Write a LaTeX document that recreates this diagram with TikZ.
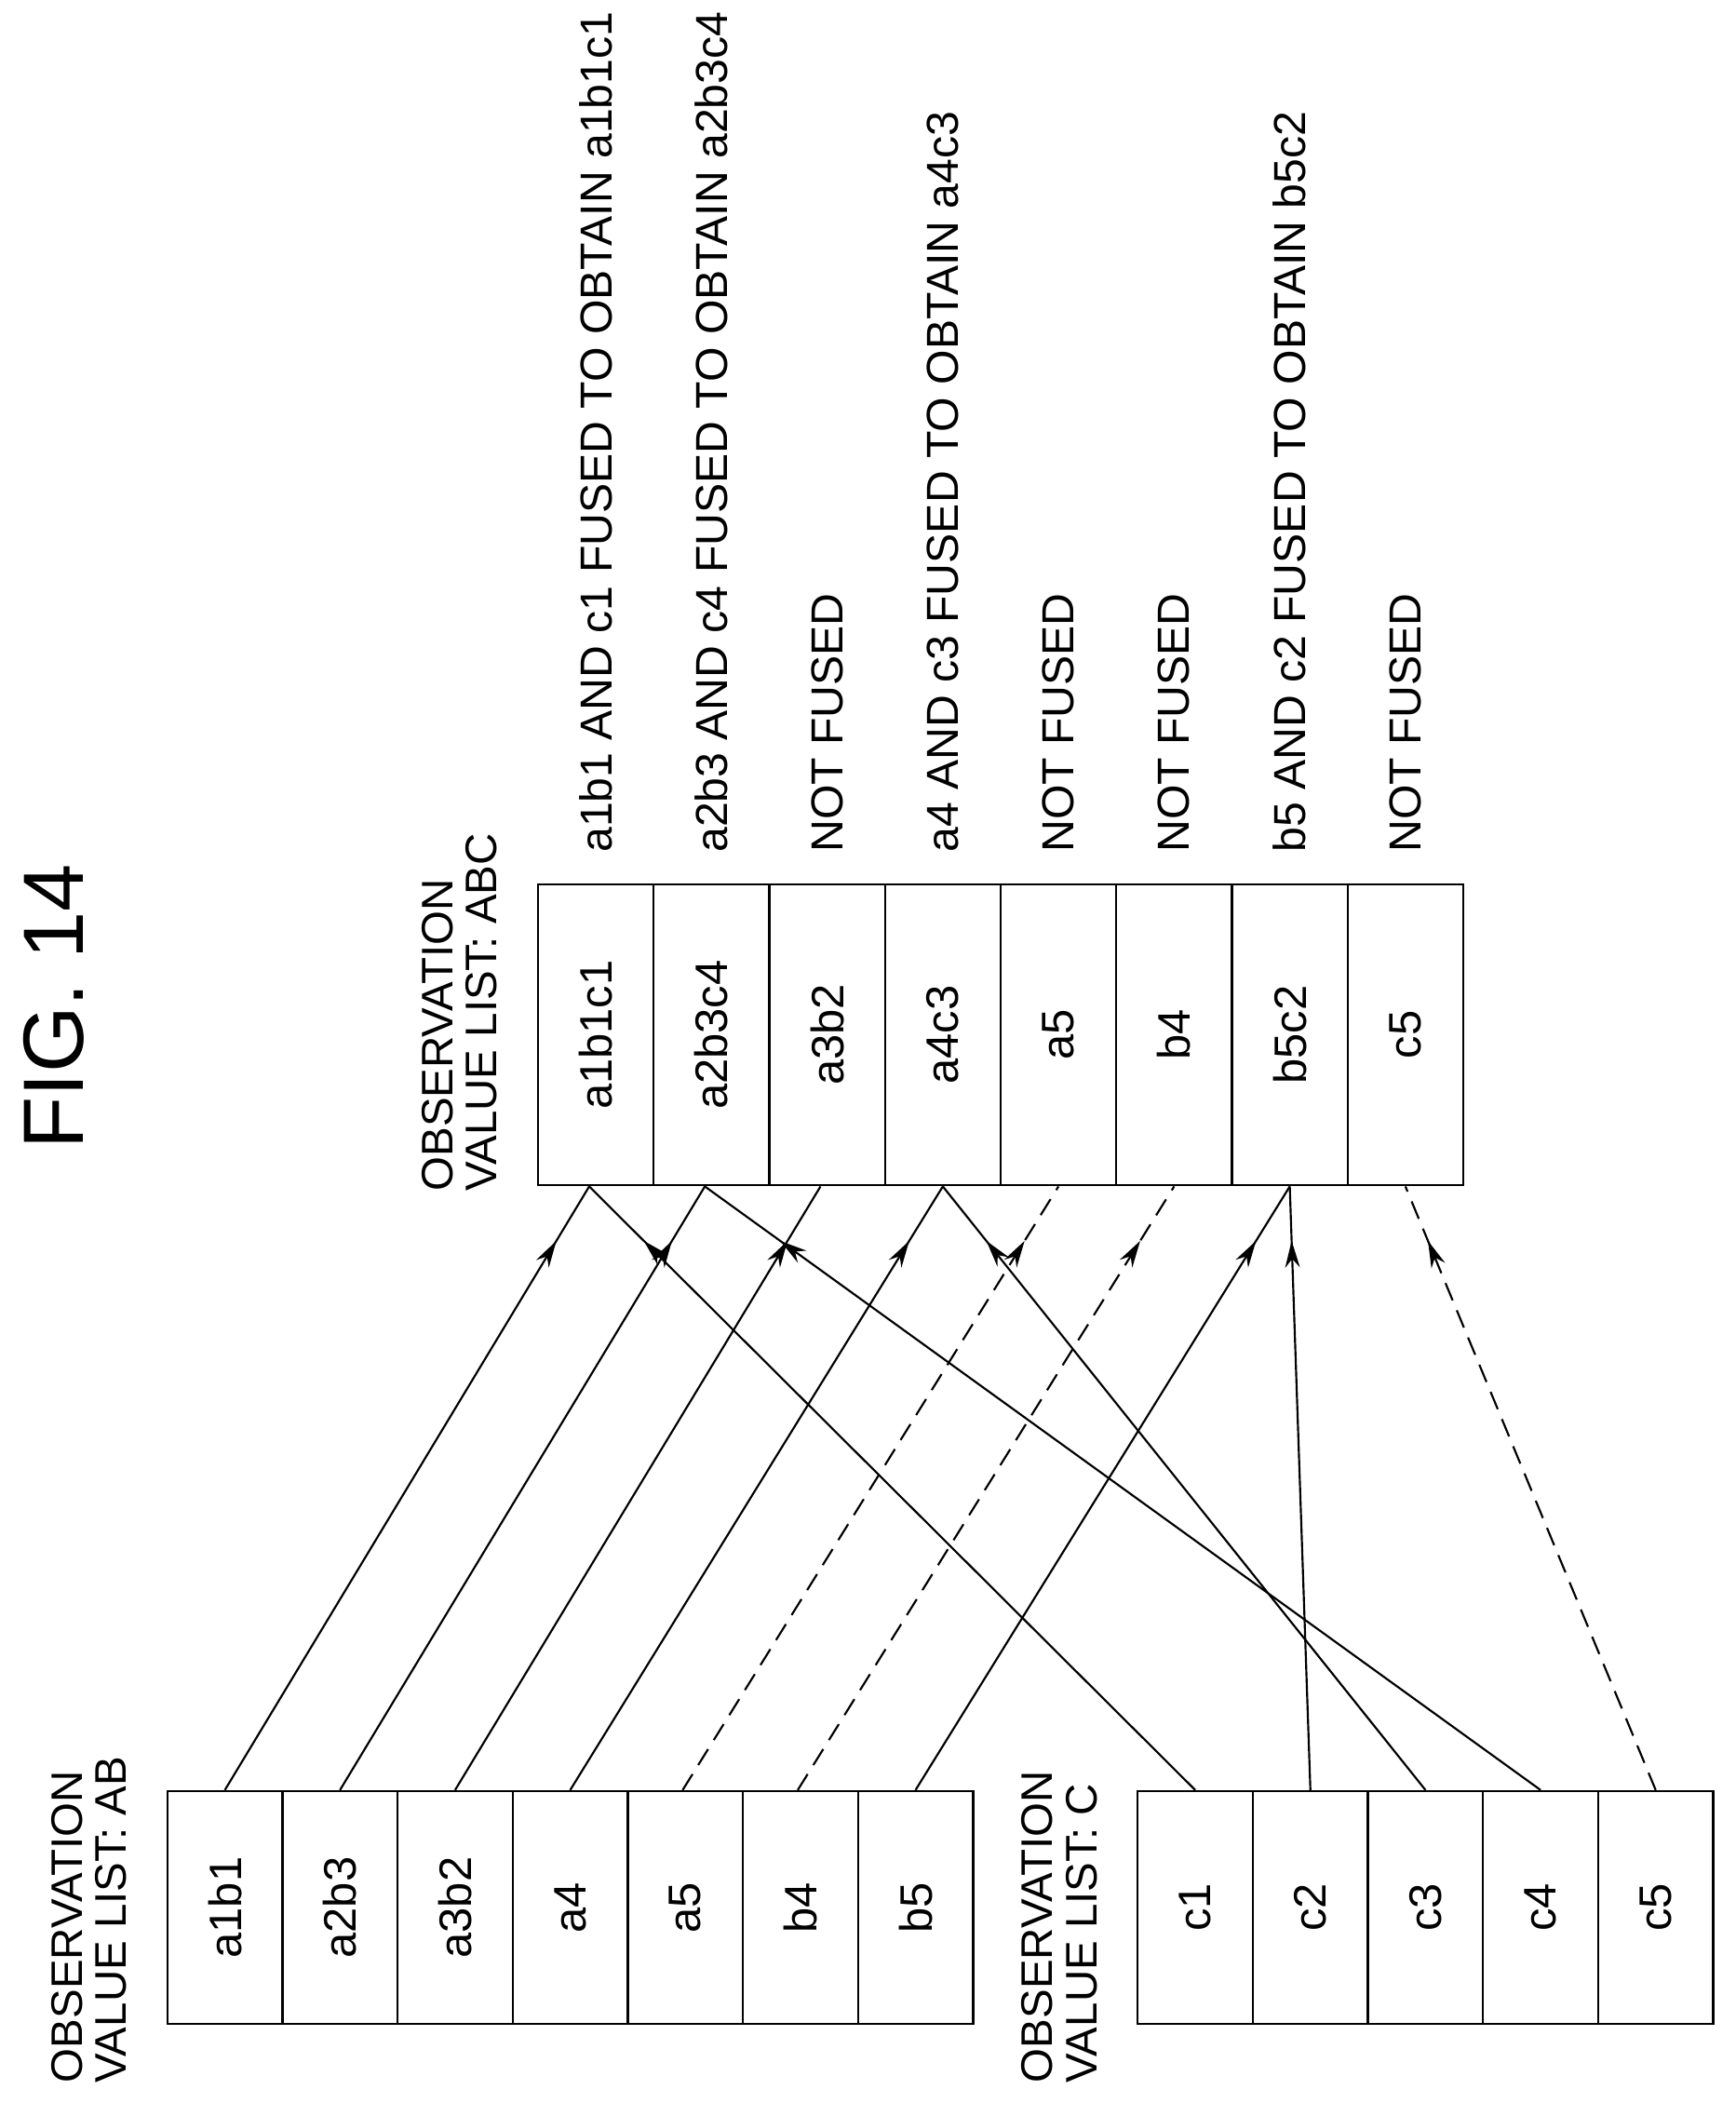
\documentclass[tikz,border=0pt]{standalone}
\usepackage{fontspec}
\setmainfont{Liberation Sans}
\usetikzlibrary{arrows.meta,decorations.markings}
\tikzset{
  cell/.style={draw,line width=1.6pt,minimum width=86pt,minimum height=174pt,inner sep=0pt,font=\fontsize{34}{38}\selectfont},
  note/.style={rotate=90,anchor=west,inner sep=0pt,font=\fontsize{33.5}{38}\selectfont},
  listlabel/.style={rotate=90,anchor=north west,align=left,inner sep=0pt,font=\fontsize{33}{33}\selectfont},
  link/.style={line width=1.5pt,postaction={decorate},decoration={markings,
    mark=at position 0.91 with {\arrow{Stealth[length=20pt,width=11pt]}}}},
  nolink/.style={link,dash pattern=on 14pt off 8pt}
}
\begin{document}
\begin{tikzpicture}[x=1pt,y=-1pt]
\useasboundingbox (0,0) rectangle (1297,1571);
\node[rotate=90,font=\fontsize{64}{70}\selectfont] (fig) at (40,752) {FIG. 14};
% list AB
\foreach \t [count=\i] in {a1b1,a2b3,a3b2,a4,a5,b4,b5}{
  \node[cell,rotate=90,minimum width=174pt,minimum height=86pt] (ab\i) at (125+86*\i-43,1425) {\t};
}
\node[listlabel] (labAB) at (38,1556) {OBSERVATION\\VALUE LIST: AB};
% list C
\foreach \t [count=\i] in {c1,c2,c3,c4,c5}{
  \node[cell,rotate=90,minimum width=174pt,minimum height=86pt] (c\i) at (850+86*\i-43,1425) {\t};
}
\node[listlabel] (labC) at (763,1556) {OBSERVATION\\VALUE LIST: C};
% list ABC
\foreach \t [count=\i] in {a1b1c1,a2b3c4,a3b2,a4c3,a5,b4,b5c2,c5}{
  \node[cell,rotate=90,minimum width=225pt,minimum height=86.4pt] (abc\i) at (402+86.4*\i-43.2,773) {\t};
}
\node[listlabel] (labABC) at (315,890) {OBSERVATION\\VALUE LIST: ABC};
% results
\foreach \n [count=\i] in {a1b1 AND c1 FUSED TO OBTAIN a1b1c1,a2b3 AND c4 FUSED TO OBTAIN a2b3c4,NOT FUSED,a4 AND c3 FUSED TO OBTAIN a4c3,NOT FUSED,NOT FUSED,b5 AND c2 FUSED TO OBTAIN b5c2,NOT FUSED}{
  \node[note] (res\i) at (402+86.4*\i-43.2,637) {\n};
}
% connectors
\draw[link] (ab1.east) -- ([xshift=-5pt]abc1.west);
\draw[link] (ab2.east) -- ([xshift=-5pt]abc2.west);
\draw[link] (ab3.east) -- ([xshift=-5pt]abc3.west);
\draw[link] (ab4.east) -- (abc4.west);
\draw[nolink] ([xshift=-2pt]ab5.east) -- (abc5.west);
\draw[nolink] ([xshift=-2pt]ab6.east) -- (abc6.west);
\draw[link] (ab7.east) -- (abc7.west);
\draw[link] (c1.east) -- ([xshift=-5pt]abc1.west);
\draw[link] (c2.east) -- (abc7.west);
\draw[link] (c3.east) -- (abc4.west);
\draw[link] (c4.east) -- ([xshift=-5pt]abc2.west);
\draw[nolink] (c5.east) -- (abc8.west);
\end{tikzpicture}
\end{document}
